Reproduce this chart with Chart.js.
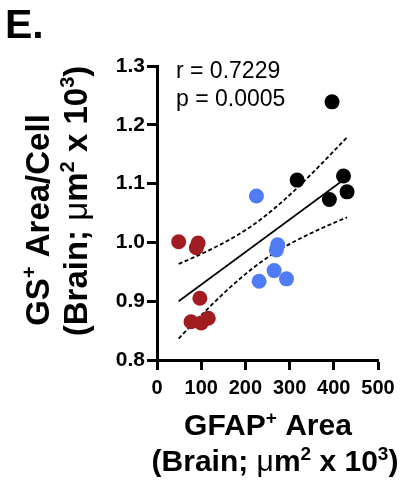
<!DOCTYPE html>
<html lang="en">
<head>
  <meta charset="UTF-8">
  <title>GS+ Area/Cell vs GFAP+ Area</title>
  <script src="https://cdn.jsdelivr.net/npm/chart.js"></script>
  <style>
    html, body { margin: 0; padding: 0; background: #fff; }
    #wrap { width: 403px; height: 493px; }
  </style>
</head>
<body>
  <div id="wrap"><canvas id="chart" width="403" height="493"></canvas></div>

  <script>
    // GFAP+ area (x) and GS+ area per cell (y), one pair per animal, by group
    const redX = [49, 93, 89, 97, 77, 100, 116];
    const redY = [1.001, 0.999, 0.991, 0.905, 0.865, 0.863, 0.871];
    const blueX = [225, 273, 270, 265, 231, 293];
    const blueY = [1.079, 0.996, 0.987, 0.952, 0.934, 0.938];
    const blackX = [396, 317, 422, 430, 390];
    const blackY = [1.239, 1.106, 1.113, 1.086, 1.073];

    const statLines = ['r = 0.7229', 'p = 0.0005'];
    const T_CRIT = 2.120; // t(0.975, df = 16)

    const FONT = '"Liberation Sans", Arial, sans-serif';

    // linear fit + 95% confidence band from all points
    const allX = redX.concat(blueX, blackX);
    const allY = redY.concat(blueY, blackY);
    const n = allX.length;
    const mx = allX.reduce((a, b) => a + b, 0) / n;
    const my = allY.reduce((a, b) => a + b, 0) / n;
    let sxx = 0, sxy = 0;
    for (let i = 0; i < n; i++) {
      sxx += (allX[i] - mx) ** 2;
      sxy += (allX[i] - mx) * (allY[i] - my);
    }
    const slope = sxy / sxx;
    const icpt = my - slope * mx;
    let sse = 0;
    for (let i = 0; i < n; i++) sse += (allY[i] - (icpt + slope * allX[i])) ** 2;
    const se = Math.sqrt(sse / (n - 2));
    const xLo = Math.min(...allX), xHi = Math.max(...allX);

    const fitLine = [xLo, xHi].map(x => ({ x, y: icpt + slope * x }));
    function band(sign) {
      const pts = [];
      for (let i = 0; i <= 40; i++) {
        const x = xLo + (xHi - xLo) * i / 40;
        const h = T_CRIT * se * Math.sqrt(1 / n + (x - mx) ** 2 / sxx);
        pts.push({ x, y: icpt + slope * x + sign * h });
      }
      return pts;
    }

    const pairs = (xs, ys) => xs.map((x, i) => ({ x, y: ys[i] }));

    // text with superscripts, drawn centred on cx
    function partFont(p, size) {
      const s = p.sup ? Math.round(size * 0.62) : size;
      return (p.weight || 'bold') + ' ' + s + 'px ' + FONT;
    }
    function drawRich(ctx, parts, size, cx, baseline) {
      let w = 0;
      parts.forEach(p => { ctx.font = partFont(p, size); w += ctx.measureText(p.t).width; });
      let x = cx - w / 2;
      ctx.textAlign = 'left';
      ctx.textBaseline = 'alphabetic';
      parts.forEach(p => {
        ctx.font = partFont(p, size);
        ctx.fillText(p.t, x, p.sup ? baseline - size * 0.38 : baseline);
        x += ctx.measureText(p.t).width;
      });
    }

    const unitParts = [
      { t: '(Brain; ' }, { t: 'μ', weight: 'normal' }, { t: 'm' }, { t: '2', sup: true },
      { t: ' x 10' }, { t: '3', sup: true }, { t: ')' }
    ];
    const yTitle = [{ t: 'GS' }, { t: '+', sup: true }, { t: ' Area/Cell' }];
    const xTitle = [{ t: 'GFAP' }, { t: '+', sup: true }, { t: ' Area' }];

    const textPlugin = {
      id: 'texts',
      afterDraw(chart) {
        const ctx = chart.ctx;
        const a = chart.chartArea;
        ctx.save();
        ctx.fillStyle = '#000';

        // panel letter
        ctx.font = 'bold 41px ' + FONT;
        ctx.textAlign = 'left';
        ctx.textBaseline = 'alphabetic';
        ctx.fillText('E.', 5, 38);

        // r and p
        ctx.font = '23px ' + FONT;
        ctx.fillText(statLines[0], a.left + 19, a.top + 12);
        ctx.fillText(statLines[1], a.left + 19, a.top + 40);

        // x title
        drawRich(ctx, xTitle, 30, 268, 435);
        drawRich(ctx, unitParts, 30, 275, 471);

        // y title
        ctx.save();
        ctx.translate(49, 220);
        ctx.rotate(-Math.PI / 2);
        drawRich(ctx, yTitle, 33, 0, 0);
        ctx.restore();
        ctx.save();
        ctx.translate(87, 201);
        ctx.rotate(-Math.PI / 2);
        drawRich(ctx, unitParts, 33, 0, 0);
        ctx.restore();

        ctx.restore();
      }
    };

    const ptStyle = { pointRadius: 7.5, pointHoverRadius: 7.5, borderWidth: 0 };

    const ctx = document.getElementById('chart').getContext('2d');
    new Chart(ctx, {
      type: 'scatter',
      data: {
        datasets: [
          { data: pairs(redX, redY), backgroundColor: '#a21d22', ...ptStyle },
          { data: pairs(blueX, blueY), backgroundColor: '#4f7cf4', ...ptStyle },
          { data: pairs(blackX, blackY), backgroundColor: '#000', ...ptStyle },
          { data: fitLine, showLine: true, pointRadius: 0, borderColor: '#000', borderWidth: 1.6 },
          { data: band(1), showLine: true, pointRadius: 0, borderColor: '#000', borderWidth: 1.8, borderDash: [4, 2.5] },
          { data: band(-1), showLine: true, pointRadius: 0, borderColor: '#000', borderWidth: 1.8, borderDash: [4, 2.5] }
        ]
      },
      options: {
        responsive: false,
        animation: false,
        layout: { padding: { top: 66, right: 25, left: 0, bottom: 0 } },
        plugins: { legend: { display: false }, tooltip: { enabled: false } },
        scales: {
          x: {
            type: 'linear', min: 0, max: 500,
            ticks: {
              stepSize: 100, color: '#000', padding: 6, maxRotation: 0,
              font: { family: '"Liberation Sans"', weight: 'bold', size: 20 }
            },
            grid: { drawOnChartArea: false, drawTicks: true, tickLength: 10, tickWidth: 3, tickColor: '#000' },
            border: { display: true, color: '#000', width: 3 },
            afterFit: s => { s.height = 133; }
          },
          y: {
            type: 'linear', min: 0.8, max: 1.3,
            ticks: {
              stepSize: 0.1, color: '#000', padding: 2,
              callback: v => Number(v).toFixed(1),
              font: { family: '"Liberation Sans"', weight: 'bold', size: 21 }
            },
            grid: { drawOnChartArea: false, drawTicks: true, tickLength: 10, tickWidth: 3, tickColor: '#000' },
            border: { display: true, color: '#000', width: 3 },
            afterFit: s => { s.width = 157; }
          }
        }
      },
      plugins: [textPlugin]
    });
  </script>
</body>
</html>
